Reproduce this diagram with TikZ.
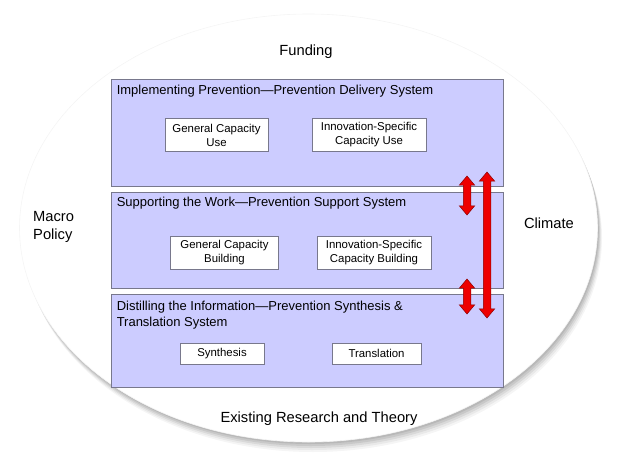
\documentclass[tikz,border=0pt]{standalone}
\usepackage{fontspec}
\setmainfont{Liberation Sans}
\usepackage{xcolor}
\usetikzlibrary{positioning,calc,shapes.arrows}

\definecolor{panelFill}{RGB}{204,204,255}
\definecolor{panelLine}{RGB}{120,120,140}
\definecolor{linkRed}{RGB}{238,0,0}

\begin{document}
\begin{tikzpicture}[x=1pt, y=-1pt,
  panel/.style={draw=panelLine, fill=panelFill, line width=0.9pt,
                minimum width=392pt, inner sep=0pt},
  panelTitle/.style={anchor=base west, inner sep=0pt, align=left,
                     font=\fontsize{13}{16}\selectfont},
  capBox/.style={draw=panelLine, fill=white, line width=0.8pt, align=center,
                 inner sep=0pt, font=\fontsize{11.4}{14}\selectfont},
  ctxLabel/.style={align=left, inner sep=0pt,
                   font=\fontsize{14.7}{18}\selectfont},
  linkArrow/.style={double arrow, rotate=90, fill=linkRed,
                    draw=red!55!black, line width=0.5pt, inner sep=3.5pt,
                    double arrow head extend=4pt, double arrow tip angle=80}
]
  \useasboundingbox (0,0) rectangle (620,465);

  % === Outer context ellipse with soft shadow ===
  \foreach \d/\o in {10/0.04, 8/0.05, 6/0.07, 4/0.08, 2/0.08}
    \fill[black, opacity=\o] (309+\d*0.4, 228+\d) ellipse (289 and 214);
  \fill[white] (308.5,228) ellipse (289 and 214);
  \draw[black!4, line width=0.6pt] (308.5,228) ellipse (289 and 214);

  % === Context labels ===
  \node[ctxLabel] (funding) at (306,52) {Funding};
  \node[ctxLabel, anchor=west] (macro) at (33,227) {Macro\\Policy};
  \node[ctxLabel] (climate) at (549,223) {Climate};
  \node[ctxLabel] (research) at (319,419) {Existing Research and Theory};

  % === Delivery system ===
  \node[panel, minimum height=107pt] (delivery) at (307,132.5) {};
  \node[panelTitle] (deliveryTitle) at ($(delivery.north west)+(6,16)$)
    {Implementing Prevention---Prevention Delivery System};
  \node[capBox, minimum width=103pt, minimum height=33pt] (genUse)
    at (216.5,135) {General Capacity\\Use};
  \node[capBox, minimum width=114pt, minimum height=33pt] (innUse)
    at (369,135) {Innovation-Specific\\Capacity Use};

  % === Support system ===
  \node[panel, minimum height=96pt] (support) at (307,240) {};
  \node[panelTitle] (supportTitle) at ($(support.north west)+(6,15)$)
    {Supporting the Work---Prevention Support System};
  \node[capBox, minimum width=108pt, minimum height=33pt] (genBuild)
    at (224.5,252.5) {General Capacity\\Building};
  \node[capBox, minimum width=114pt, minimum height=33pt] (innBuild)
    at (374,252.5) {Innovation-Specific\\Capacity Building};

  % === Synthesis and translation system ===
  \node[panel, minimum height=93pt] (synth) at (307,340.5) {};
  % base is on the last line here
  \node[panelTitle] (synthTitle) at ($(synth.north west)+(6,32.5)$)
    {Distilling the Information---Prevention Synthesis \&\\Translation System};
  \node[capBox, minimum width=84pt, minimum height=21pt] (synthesis)
    at (222,353.5) {Synthesis};
  \node[capBox, minimum width=89pt, minimum height=21pt] (translation)
    at (376.5,353.5) {Translation};

  % === Links between systems ===
  \node[linkArrow, minimum height=39pt] (upperLink) at (467,195.5) {};
  \node[linkArrow, minimum height=35pt] (lowerLink) at (467,296.5) {};
  \node[linkArrow, minimum height=146pt] (longLink) at (487,245) {};
\end{tikzpicture}
\end{document}
